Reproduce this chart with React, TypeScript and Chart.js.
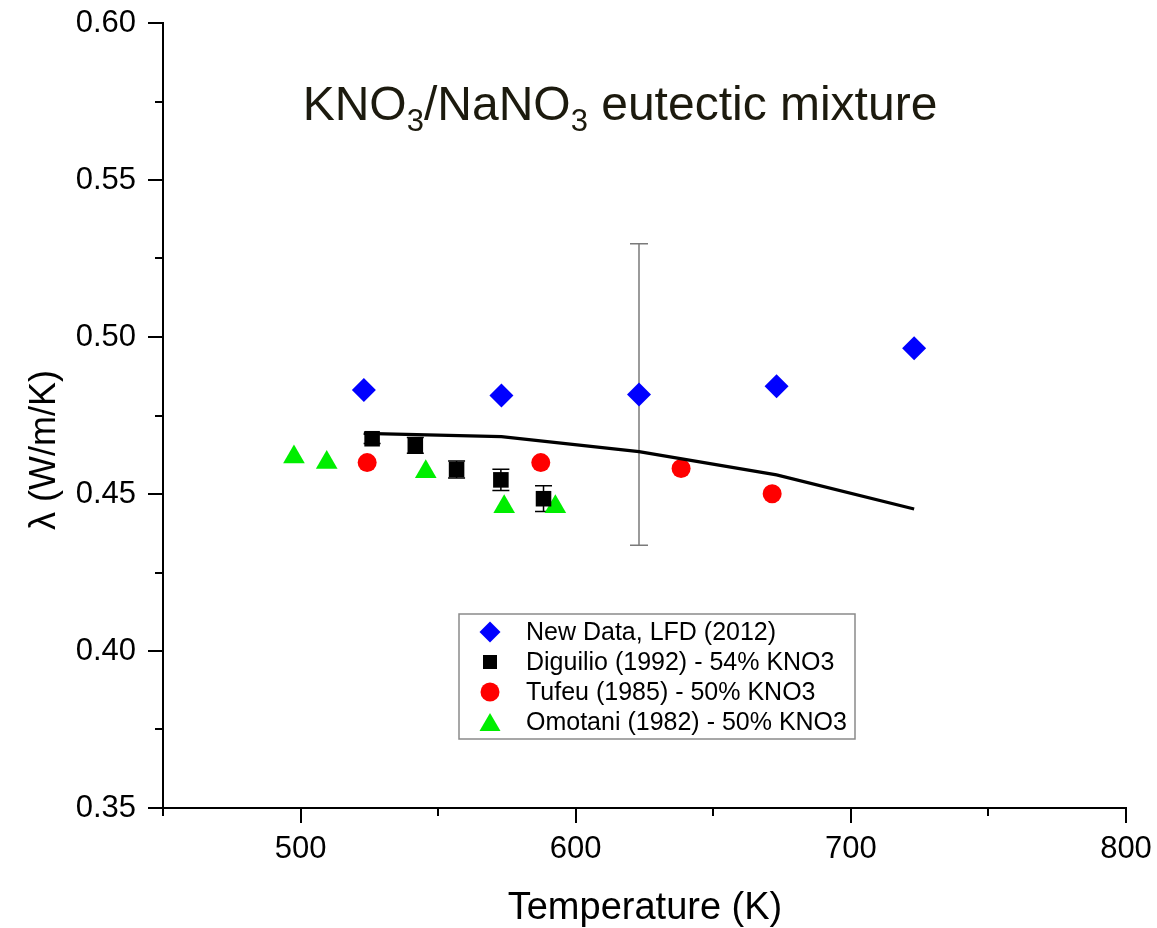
import { useEffect, useRef } from 'react';
import { Chart, registerables } from 'chart.js';

Chart.register(...registerables);

// ---- data ----
const newDataT = [523, 573, 623, 673, 723];
const newDataK = [0.4831, 0.4814, 0.4817, 0.4843, 0.4964];
const newDataErr = [0, 0, 0.048, 0, 0];

const diguilioT = [526.0, 541.7, 556.7, 572.8, 588.3];
const diguilioK = [0.4676, 0.4655, 0.4578, 0.4545, 0.4485];
const diguilioErr = [0.0015, 0.0025, 0.0027, 0.0034, 0.0041];

const tufeuT = [524.2, 587.3, 638.3, 671.4];
const tufeuK = [0.46, 0.46, 0.4581, 0.4501];

const omotaniT = [497.6, 509.5, 545.5, 574.0, 592.6];
const omotaniK = [0.4618, 0.46, 0.4571, 0.4459, 0.4459];

const modelT = [523, 573, 623, 673, 723];
const modelK = [0.4693, 0.4683, 0.4635, 0.4561, 0.4452];

const legendLabels = [
  'New Data, LFD (2012)',
  'Diguilio (1992) - 54% KNO3',
  'Tufeu (1985) - 50% KNO3',
  'Omotani (1982) - 50% KNO3',
];

const xMin = 450;
const xMax = 800;
const xStep = 50;
const xLabelStep = 100;
const yMin = 0.35;
const yMax = 0.6;
const yStep = 0.025;
const yLabelStep = 0.05;

const FONT = '"Liberation Sans", Arial, Helvetica, sans-serif';

const toXY = (xs: number[], ys: number[]) => xs.map((x, i) => ({ x, y: ys[i] }));

function drawMarker(ctx: CanvasRenderingContext2D, kind: string, x: number, y: number, r: number, color: string) {
  ctx.save();
  ctx.fillStyle = color;
  ctx.beginPath();
  if (kind === 'diamond') {
    ctx.moveTo(x, y - r);
    ctx.lineTo(x + r, y);
    ctx.lineTo(x, y + r);
    ctx.lineTo(x - r, y);
    ctx.closePath();
  } else if (kind === 'square') {
    ctx.rect(x - r, y - r, 2 * r, 2 * r);
  } else if (kind === 'circle') {
    ctx.arc(x, y, r, 0, Math.PI * 2);
  } else if (kind === 'triangle') {
    ctx.moveTo(x, y - r * 0.85);
    ctx.lineTo(x + r, y + r * 0.85);
    ctx.lineTo(x - r, y + r * 0.85);
    ctx.closePath();
  }
  ctx.fill();
  ctx.restore();
}

const errorBarPlugin = {
  id: 'errorBars',
  beforeDatasetsDraw(chart: any) {
    const { ctx, scales } = chart;
    const xs = scales.x;
    const ys = scales.y;
    const sets = [
      { t: newDataT, k: newDataK, e: newDataErr, color: '#7a7a7a', cap: 9 },
      { t: diguilioT, k: diguilioK, e: diguilioErr, color: '#000000', cap: 8.5 },
    ];
    ctx.save();
    ctx.lineWidth = 1.5;
    sets.forEach((s) => {
      ctx.strokeStyle = s.color;
      s.t.forEach((t, i) => {
        const err = s.e[i];
        if (!err) return;
        const px = xs.getPixelForValue(t);
        const top = ys.getPixelForValue(s.k[i] + err);
        const bot = ys.getPixelForValue(s.k[i] - err);
        ctx.beginPath();
        ctx.moveTo(px, top);
        ctx.lineTo(px, bot);
        ctx.moveTo(px - s.cap, top);
        ctx.lineTo(px + s.cap, top);
        ctx.moveTo(px - s.cap, bot);
        ctx.lineTo(px + s.cap, bot);
        ctx.stroke();
      });
    });
    ctx.restore();
  },
};

const decorPlugin = {
  id: 'decor',
  afterDraw(chart: any) {
    const { ctx, scales, chartArea } = chart;
    const xs = scales.x;
    const ys = scales.y;
    ctx.save();
    // tick marks (major / minor)
    ctx.strokeStyle = '#000';
    ctx.lineWidth = 2;
    const nY = Math.round((yMax - yMin) / yStep);
    for (let i = 0; i <= nY; i++) {
      const v = yMin + i * yStep;
      const major = Math.abs(v / yLabelStep - Math.round(v / yLabelStep)) < 1e-6;
      const py = Math.round(ys.getPixelForValue(v));
      ctx.beginPath();
      ctx.moveTo(chartArea.left - (major ? 15 : 8), py);
      ctx.lineTo(chartArea.left, py);
      ctx.stroke();
    }
    const nX = Math.round((xMax - xMin) / xStep);
    for (let i = 0; i <= nX; i++) {
      const v = xMin + i * xStep;
      const major = v % xLabelStep === 0;
      const px = Math.round(xs.getPixelForValue(v));
      ctx.beginPath();
      ctx.moveTo(px, chartArea.bottom);
      ctx.lineTo(px, chartArea.bottom + (major ? 15 : 8));
      ctx.stroke();
    }

    // title with subscripts
    const parts: [string, boolean][] = [
      ['KNO', false],
      ['3', true],
      ['/NaNO', false],
      ['3', true],
      [' eutectic mixture', false],
    ];
    const bigF = `48px ${FONT}`;
    const subF = `31px ${FONT}`;
    let total = 0;
    parts.forEach(([s, sub]) => {
      ctx.font = sub ? subF : bigF;
      total += ctx.measureText(s).width;
    });
    let cx = 620 - total / 2;
    ctx.fillStyle = '#1c1a0e';
    ctx.textBaseline = 'alphabetic';
    ctx.textAlign = 'left';
    parts.forEach(([s, sub]) => {
      ctx.font = sub ? subF : bigF;
      ctx.fillText(s, cx, sub ? 131 : 120);
      cx += ctx.measureText(s).width;
    });

    // axis titles
    ctx.fillStyle = '#000';
    ctx.font = `38px ${FONT}`;
    ctx.textAlign = 'center';
    ctx.textBaseline = 'alphabetic';
    ctx.fillText('Temperature (K)', 645, 919);

    ctx.save();
    ctx.translate(55, 450);
    ctx.rotate(-Math.PI / 2);
    ctx.font = `36px ${FONT}`;
    ctx.textAlign = 'center';
    ctx.fillText('\u03bb (W/m/K)', 0, 0);
    ctx.restore();

    // legend
    const bx = 459, by = 614, bw = 396, bh = 125;
    ctx.fillStyle = '#fff';
    ctx.fillRect(bx, by, bw, bh);
    ctx.strokeStyle = '#8a8a8a';
    ctx.lineWidth = 1.5;
    ctx.strokeRect(bx, by, bw, bh);
    const kinds = [
      ['diamond', '#0000ff', 10.5],
      ['square', '#000000', 7],
      ['circle', '#ff0000', 9.5],
      ['triangle', '#00ee00', 10.5],
    ] as [string, string, number][];
    ctx.font = `25px ${FONT}`;
    ctx.textAlign = 'left';
    ctx.textBaseline = 'middle';
    legendLabels.forEach((lab, i) => {
      const ry = 632 + i * 30;
      drawMarker(ctx, kinds[i][0], 490, ry, kinds[i][2], kinds[i][1]);
      ctx.fillStyle = '#000';
      ctx.fillText(lab, 526, ry + 1);
    });
    ctx.restore();
  },
};

export default function App() {
  const ref = useRef<HTMLCanvasElement | null>(null);
  useEffect(() => {
    document.body.style.margin = '0';
    const canvas = ref.current;
    if (!canvas) return;
    const chart = new Chart(canvas, {
      type: 'scatter',
      data: {
        datasets: [
          {
            type: 'line',
            label: 'model',
            data: toXY(modelT, modelK),
            borderColor: '#000',
            borderWidth: 3.2,
            pointRadius: 0,
            fill: false,
            tension: 0,
          } as any,
          {
            label: legendLabels[0],
            data: toXY(newDataT, newDataK),
            pointStyle: 'rectRot',
            pointRadius: 12,
            backgroundColor: '#0000ff',
            borderColor: '#0000ff',
            borderWidth: 0,
          },
          {
            label: legendLabels[1],
            data: toXY(diguilioT, diguilioK),
            pointStyle: 'rect',
            pointRadius: 11,
            backgroundColor: '#000',
            borderColor: '#000',
            borderWidth: 0,
          },
          {
            label: legendLabels[2],
            data: toXY(tufeuT, tufeuK),
            pointStyle: 'circle',
            pointRadius: 9.5,
            backgroundColor: '#ff0000',
            borderColor: '#ff0000',
            borderWidth: 0,
          },
          {
            label: legendLabels[3],
            data: toXY(omotaniT, omotaniK),
            pointStyle: 'triangle',
            pointRadius: 12.5,
            backgroundColor: '#00ee00',
            borderColor: '#00ee00',
            borderWidth: 0,
          },
        ],
      },
      options: {
        animation: false,
        responsive: false,
        maintainAspectRatio: false,
        layout: { padding: { top: 23, right: 31, left: 0, bottom: 0 } },
        plugins: {
          legend: { display: false },
          tooltip: { enabled: false },
          title: { display: false },
        },
        scales: {
          x: {
            type: 'linear',
            min: xMin,
            max: xMax,
            afterFit: (s: any) => {
              s.height = 120;
              s.paddingLeft = 0;
              s.paddingRight = 0;
            },
            afterBuildTicks: (s: any) => {
              const t = [];
              for (let v = xMin; v <= xMax + 1e-9; v += xStep) t.push({ value: v });
              s.ticks = t;
            },
            ticks: {
              font: { family: FONT, size: 31 },
              color: '#000',
              padding: 8,
              maxRotation: 0,
              autoSkip: false,
              callback: (v: any) => (Number(v) % xLabelStep === 0 ? String(v) : ''),
            },
            grid: {
              drawOnChartArea: false,
              color: 'transparent',
              tickColor: 'transparent',
              tickLength: 15,
            },
            border: { display: true, color: '#000', width: 2 },
          },
          y: {
            type: 'linear',
            min: yMin,
            max: yMax,
            afterFit: (s: any) => {
              s.width = 163;
              s.paddingTop = 0;
              s.paddingBottom = 0;
            },
            afterBuildTicks: (s: any) => {
              const t = [];
              const n = Math.round((yMax - yMin) / yStep);
              for (let i = 0; i <= n; i++) t.push({ value: +(yMin + i * yStep).toFixed(4) });
              s.ticks = t;
            },
            ticks: {
              font: { family: FONT, size: 31 },
              color: '#000',
              padding: 12,
              autoSkip: false,
              callback: (v: any) => {
                const n = Number(v);
                const r = n / yLabelStep;
                return Math.abs(r - Math.round(r)) < 1e-6 ? n.toFixed(2) : '';
              },
            },
            grid: {
              drawOnChartArea: false,
              color: 'transparent',
              tickColor: 'transparent',
              tickLength: 15,
            },
            border: { display: true, color: '#000', width: 2 },
          },
        },
      } as any,
      plugins: [errorBarPlugin, decorPlugin],
    });
    return () => chart.destroy();
  }, []);
  return (
    <div style={{ width: 1157, height: 928, background: '#fff' }}>
      <canvas ref={ref} width={1157} height={928} style={{ display: 'block', width: 1157, height: 928 }} />
    </div>
  );
}
